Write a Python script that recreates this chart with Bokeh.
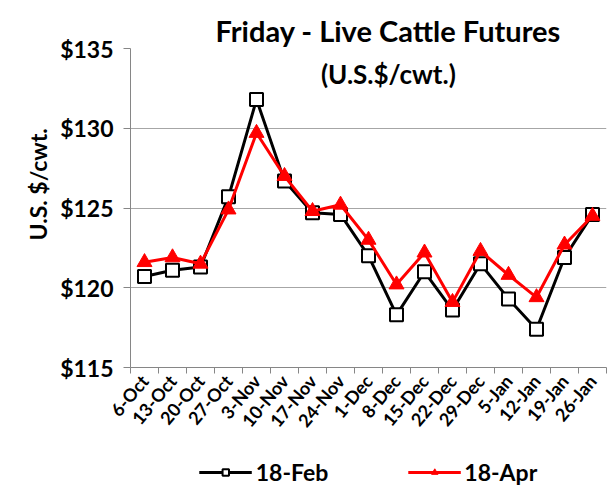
import numpy as np
from bokeh.plotting import figure
from bokeh.layouts import column
from bokeh.models import (Range1d, FixedTicker, Label, Legend, LegendItem,
                          ColumnDataSource, Title)
from bokeh.embed import file_html
from bokeh.resources import INLINE

# ---- data ----
dates = ["6-Oct", "13-Oct", "20-Oct", "27-Oct", "3-Nov", "10-Nov", "17-Nov", "24-Nov",
         "1-Dec", "8-Dec", "15-Dec", "22-Dec", "29-Dec", "5-Jan", "12-Jan", "19-Jan", "26-Jan"]
feb18 = [120.7, 121.1, 121.3, 125.7, 131.8, 126.7, 124.7, 124.6,
         122.0, 118.3, 121.0, 118.6, 121.5, 119.3, 117.4, 121.9, 124.6]
apr18 = [121.6, 121.9, 121.5, 124.9, 129.7, 127.0, 124.8, 125.2,
         123.0, 120.2, 122.2, 119.1, 122.3, 120.8, 119.4, 122.7, 124.5]
y_ticks = [115, 120, 125, 130, 135]
y_tick_labels = ["$115", "$120", "$125", "$130", "$135"]
series_names = ["18-Feb", "18-Apr"]

FONT = "Lato"
GRID = "#a6a6a6"
AXIS = "#868686"
FEB_COLOR = "black"
APR_COLOR = "#ff0000"

n = len(dates)
# category slots: each category centred in its slot, boundaries at integers
centers = [i + 0.5 for i in range(n)]
src = ColumnDataSource(dict(x=centers, date=dates, feb=feb18, apr=apr18))

p = figure(frame_width=476, frame_height=319,
           x_range=Range1d(0, n),
           y_range=Range1d(115, 135),
           output_backend="svg", toolbar_location=None,
           min_border_left=130, min_border_right=5, min_border_top=48,
           min_border_bottom=90, outline_line_color=None)
p.background_fill_color = "white"
p.border_fill_color = "white"

# y axis
ya = p.yaxis[0]
ya.ticker = FixedTicker(ticks=y_ticks)
ya.major_label_overrides = {t: l for t, l in zip(y_ticks, y_tick_labels)}
ya.major_tick_out = 7
ya.major_tick_in = 0
ya.minor_tick_out = 0
ya.minor_tick_in = 0
ya.axis_line_color = AXIS
ya.major_tick_line_color = AXIS
ya.major_label_text_font = FONT
ya.major_label_text_font_style = "bold"
ya.major_label_text_font_size = "23px"
ya.major_label_text_color = "black"
ya.major_label_standoff = 10

p.ygrid.grid_line_color = GRID
p.ygrid.grid_line_width = 1
p.ygrid.ticker = FixedTicker(ticks=y_ticks)
p.xgrid.visible = False

# x axis: labels at category centres, tick marks at category boundaries
xa = p.xaxis[0]
xa.ticker = FixedTicker(ticks=centers, minor_ticks=list(range(n + 1)))
xa.major_label_overrides = {c: d for c, d in zip(centers, dates)}
xa.major_tick_out = 0
xa.major_tick_in = 0
xa.minor_tick_out = 6
xa.minor_tick_in = 0
xa.minor_tick_line_color = AXIS
xa.axis_line_color = AXIS
xa.major_label_orientation = 0.87
xa.major_label_text_font = FONT
xa.major_label_text_font_style = "bold"
xa.major_label_text_font_size = "18px"
xa.major_label_text_color = "black"
xa.major_label_standoff = 4

# series
p.line(x="x", y="feb", source=src, line_color=FEB_COLOR, line_width=3)
p.scatter(x="x", y="feb", source=src, marker="square", size=13, fill_color="white",
          line_color=FEB_COLOR, line_width=2)
p.line(x="x", y="apr", source=src, line_color=APR_COLOR, line_width=3)
p.scatter(x="x", y="apr", source=src, marker="triangle", size=15,
          fill_color=APR_COLOR, line_color=APR_COLOR, line_width=1)

# titles
p.add_layout(Title(text="Friday - Live Cattle Futures", align="left", offset=85,
                   text_font=FONT, text_font_style="bold", text_font_size="29px",
                   text_color="black", standoff=2), "above")
p.add_layout(Label(x=9.21, y=133.43, text="(U.S.$/cwt.)",
                   text_align="center", text_baseline="middle",
                   text_font=FONT, text_font_style="bold", text_font_size="26px",
                   text_color="black"))
p.add_layout(Title(text="U.S. $/cwt.", align="left", offset=127,
                   text_font=FONT, text_font_style="bold", text_font_size="23px",
                   text_color="black", standoff=12), "left")

# legend strip below the chart; its series renderers fall outside its own range,
# so only the legend keys are visible
lg = figure(frame_width=476, frame_height=29, x_range=Range1d(0, n), y_range=Range1d(0, 1),
            output_backend="svg", toolbar_location=None,
            x_axis_location=None, y_axis_location=None,
            min_border_left=130, min_border_right=5, min_border_top=0, min_border_bottom=0,
            outline_line_color=None)
lg.xgrid.visible = False
lg.ygrid.visible = False
kl1 = lg.line(x="x", y="feb", source=src, line_color=FEB_COLOR, line_width=3)
ks1 = lg.scatter(x="x", y="feb", source=src, marker="square", size=13, fill_color="white",
                 line_color=FEB_COLOR, line_width=2)
kl2 = lg.line(x="x", y="apr", source=src, line_color=APR_COLOR, line_width=3)
ks2 = lg.scatter(x="x", y="apr", source=src, marker="triangle", size=15,
                 fill_color=APR_COLOR, line_color=APR_COLOR, line_width=1)
legend = Legend(items=[LegendItem(label=series_names[0], renderers=[kl1, ks1]),
                       LegendItem(label=series_names[1], renderers=[kl2, ks2])],
                orientation="horizontal", location="center",
                border_line_color=None, background_fill_alpha=0,
                label_text_font=FONT, label_text_font_style="bold",
                label_text_font_size="23px", label_text_color="black",
                glyph_width=53, glyph_height=16, label_height=16,
                label_standoff=4, spacing=79, padding=0, margin=0)
lg.add_layout(legend, "center")

layout = column(p, lg, spacing=0)
open("out.html", "w").write(file_html(layout, INLINE))
